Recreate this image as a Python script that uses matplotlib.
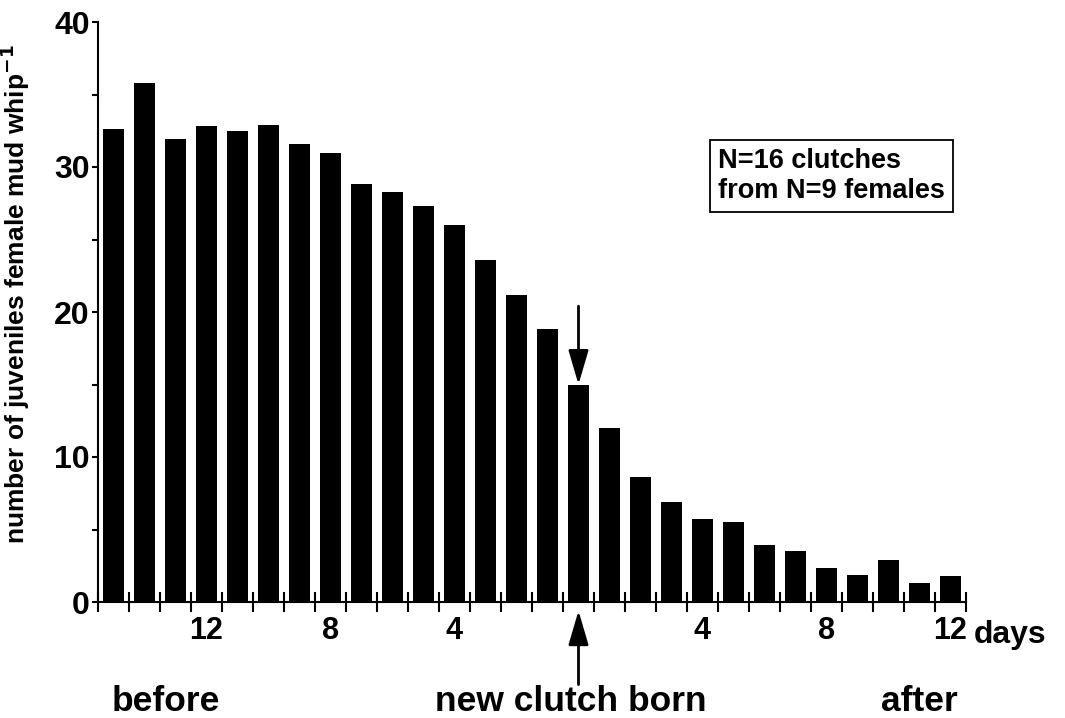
import numpy as np
import matplotlib.pyplot as plt
from matplotlib.ticker import MultipleLocator, FixedLocator

plt.rcParams['font.family'] = 'Liberation Sans'
plt.rcParams['font.weight'] = 'bold'
plt.rcParams['mathtext.default'] = 'bf'

# days relative to the birth of the new clutch (day 0)
days = list(range(-15, 13))
juveniles = [32.6, 35.8, 31.9, 32.8, 32.5, 32.9, 31.6, 31.0, 28.8, 28.3,
             27.3, 26.0, 23.6, 21.2, 18.8, 15.0, 12.0, 8.6, 6.9, 5.7,
             5.55, 3.95, 3.55, 2.35, 1.85, 2.9, 1.3, 1.8]
label_days = [-12, -8, -4, 4, 8, 12]
label_text = ['12', '8', '4', '4', '8', '12']

x = np.arange(len(days)) + 0.5

fig = plt.figure(figsize=(10.65, 7.18), dpi=100)
ax = fig.add_axes([98/1065, 1-602/718, 868/1065, 580/718])

ax.bar(x, juveniles, width=0.7, color='black')

ax.set_xlim(0, len(days))
ax.set_ylim(0, 40)

ax.spines['top'].set_visible(False)
ax.spines['right'].set_visible(False)
ax.spines['left'].set_linewidth(1.5)
ax.spines['bottom'].set_linewidth(1.5)

# y axis
ax.yaxis.set_major_locator(MultipleLocator(10))
ax.yaxis.set_minor_locator(MultipleLocator(5))
ax.tick_params(axis='y', which='both', direction='out', length=4.5, width=1.5,
               labelsize=23, pad=1.5)

# x axis: ticks between bars, labels under bar centres
ax.xaxis.set_major_locator(MultipleLocator(1))
ax.xaxis.set_major_formatter(plt.NullFormatter())
lab_pos = [x[days.index(d)] for d in label_days]
ax.xaxis.set_minor_locator(FixedLocator(lab_pos))
ax.set_xticklabels(label_text, minor=True)
ax.tick_params(axis='x', which='major', direction='inout', length=14, width=1.5)
ax.tick_params(axis='x', which='minor', length=0, labelsize=22, pad=10)

ax.set_ylabel('number of juveniles female mud whip$^{-1}$', fontsize=19,
              fontweight='bold')
ax.yaxis.set_label_coords(-0.076, 0.53)

ax.text(len(days) + 0.25, -2.3, 'days', fontsize=23, ha='left', va='center',
        clip_on=False)

# arrows marking day 0
x0 = x[days.index(0)]
arrow = dict(arrowstyle='-|>,head_length=0.75,head_width=0.22', color='black',
             lw=2, mutation_scale=28, shrinkA=0, shrinkB=0)
ax.annotate('', xy=(x0, juveniles[days.index(0)]), xytext=(x0, 20.4),
            arrowprops=arrow)
ax.annotate('', xy=(x0, -0.6), xytext=(x0, -5.7),
            arrowprops=arrow, annotation_clip=False)

fig.text(166/1065, 1-711/718, 'before', fontsize=25.5, ha='center', va='baseline')
fig.text(571/1065, 1-711/718, 'new clutch born', fontsize=25.5, ha='center', va='baseline')
fig.text(919/1065, 1-711/718, 'after', fontsize=25.5, ha='center', va='baseline')

ax.text(718/1065, 1-176/718, 'N=16 clutches\nfrom N=9 females', transform=fig.transFigure,
        fontsize=19.5, ha='left', va='center', linespacing=1.15,
        bbox=dict(boxstyle='square,pad=0.3', fc='white', ec='black', lw=1.3))

fig.savefig('out.png', dpi=100)
